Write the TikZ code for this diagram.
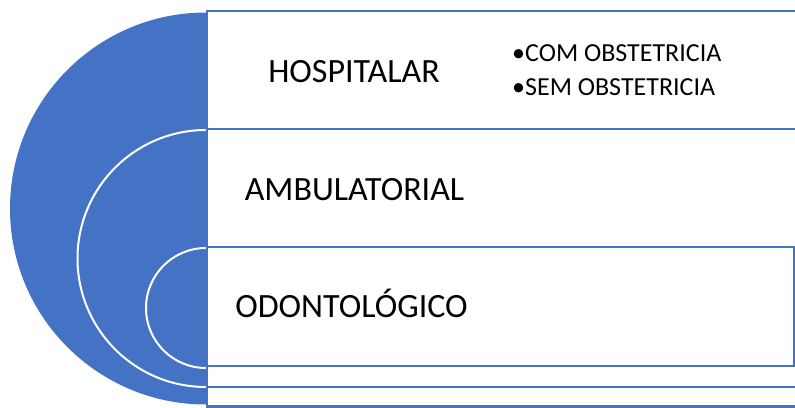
\documentclass[tikz,border=0pt]{standalone}
\usepackage{fontspec}
\setmainfont{Carlito}
\definecolor{accentblue}{HTML}{4472C4}
\begin{document}
\begin{tikzpicture}
  [x=1pt,y=-1pt,
   rowbox/.style={draw=accentblue,line width=2.25pt,fill=white},
   ring/.style={draw=white,line width=2pt},
   title/.style={anchor=base,inner sep=0pt,font=\fontsize{34}{40}\selectfont},
   item/.style={anchor=base west,inner sep=0pt,font=\fontsize{26}{31}\selectfont}]
  \useasboundingbox (0,0) rectangle (795,407);
  \clip (0,0) rectangle (795,407);

  % target
  \fill[accentblue] (206,12.5) arc (270:90:196) -- cycle;
  \draw[ring] (206,130) arc (270:90:128.5);
  \draw[ring] (206,248) arc (270:90:60);

  % rows
  \draw[rowbox] (207,387) rectangle (812,406.5);
  \draw[rowbox] (207,366) rectangle (812,387);
  \draw[rowbox] (207,247) rectangle (794,366);
  \draw[rowbox] (207,129) rectangle (812,247);
  \draw[rowbox] (207,11) rectangle (812,129);

  \node[title] (hosp) at (354,82) {HOSPITALAR};
  \node[title] (amb) at (354.5,200) {AMBULATORIAL};
  \node[title] (odonto) at (351.5,317) {ODONTOLÓGICO};

  \node[item] (com) at (512,61.5) {•COM OBSTETRICIA};
  \node[item] (sem) at (512,95) {•SEM OBSTETRICIA};

\end{tikzpicture}
\end{document}
